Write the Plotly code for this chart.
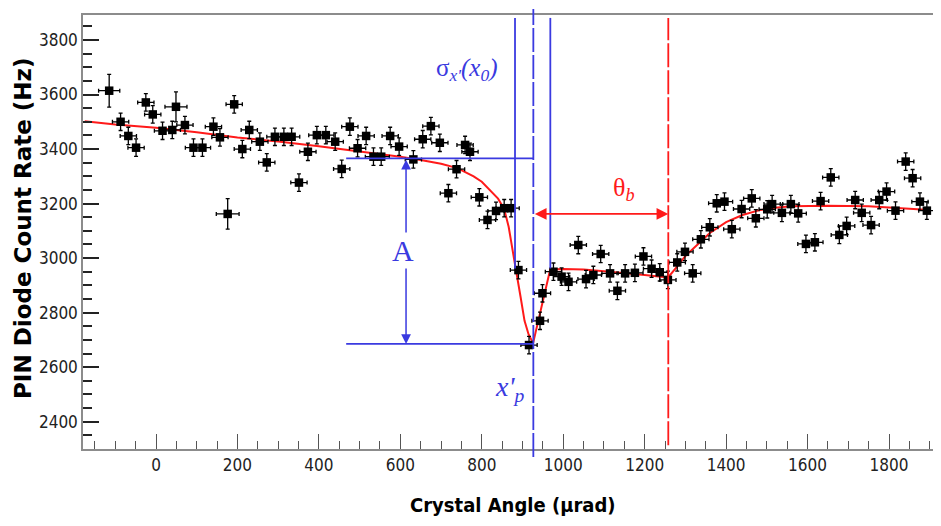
import plotly.graph_objects as go

# ---------------- data ----------------
angle = [-115, -87, -68, -49, -25, -8, 16, 40, 49, 71, 92, 114, 141, 157, 176, 192,
         212, 229, 255, 272, 292, 314, 333, 351, 373, 395, 417, 440, 456, 476, 495,
         516, 534, 553, 575, 597, 632, 655, 675, 697, 718, 738, 759, 771, 794, 814,
         835, 855, 872, 890, 916, 943, 949, 976, 996, 1013, 1037, 1056, 1074, 1092,
         1115, 1133, 1152, 1176, 1197, 1217, 1237, 1257, 1280, 1299, 1318, 1338,
         1360, 1377, 1396, 1414, 1438, 1463, 1473, 1501, 1513, 1537, 1559, 1577,
         1596, 1618, 1632, 1657, 1678, 1696, 1717, 1733, 1756, 1776, 1794, 1816,
         1841, 1858, 1876, 1893]
rate = [3614, 3500, 3448, 3405, 3571, 3527, 3467, 3470, 3555, 3488, 3405, 3405,
        3482, 3443, 3162, 3564, 3400, 3470, 3427, 3351, 3445, 3445, 3445, 3277,
        3390, 3451, 3451, 3427, 3327, 3482, 3403, 3448, 3372, 3372, 3448, 3409,
        3362, 3436, 3484, 3423, 3238, 3326, 3415, 3390, 3223, 3140, 3173, 3183,
        3183, 2956, 2681, 2770, 2871, 2950, 2932, 2913, 3048, 2923, 2938, 3015,
        2944, 2880, 2944, 2946, 3006, 2961, 2948, 2920, 2984, 3023, 2944, 3069,
        3113, 3201, 3207, 3106, 3180, 3219, 3146, 3179, 3198, 3166, 3198, 3164,
        3052, 3058, 3209, 3296, 3085, 3118, 3213, 3166, 3121, 3213, 3244, 3174,
        3354, 3293, 3207, 3174]
angle_err = [26, 20, 20, 20, 20, 20, 20, 20, 27, 20, 20, 20, 20, 20, 28, 20,
             20, 20, 20, 20, 20, 20, 20, 20, 20, 20, 20, 20, 20, 20, 20,
             20, 20, 20, 20, 20, 20, 20, 20, 20, 20, 20, 20, 20, 20, 20,
             20, 20, 20, 20, 20, 20, 20, 20, 20, 20, 20, 20, 20, 20,
             20, 20, 20, 20, 20, 20, 20, 20, 20, 20, 20, 20,
             20, 20, 20, 20, 20, 20, 20, 20, 20, 20, 20, 20,
             20, 20, 20, 20, 20, 20, 20, 20, 20, 20, 20, 20,
             20, 20, 20, 20]
rate_err = [60, 32, 32, 32, 32, 32, 32, 32, 55, 32, 32, 32, 32, 32, 56, 32,
            32, 32, 32, 32, 32, 32, 32, 32, 32, 32, 32, 32, 32, 32, 32,
            32, 32, 32, 32, 32, 32, 32, 32, 32, 32, 32, 32, 32, 32, 32,
            32, 32, 32, 32, 32, 32, 32, 32, 32, 32, 32, 32, 32, 32,
            32, 32, 32, 32, 32, 32, 32, 32, 32, 32, 32, 32,
            32, 32, 32, 32, 32, 32, 32, 32, 32, 32, 32, 32,
            32, 32, 32, 32, 32, 32, 32, 32, 32, 32, 32, 32,
            32, 32, 32, 32]

fit_angle = [-175, -100, 0, 100, 200, 300, 400, 500, 600, 650, 700, 740, 780, 800,
             820, 840, 855, 866, 877, 886, 895, 905, 915, 926, 968, 1000, 1050,
             1100, 1150, 1200, 1240, 1258, 1280, 1300, 1330, 1360, 1400, 1440,
             1480, 1520, 1560, 1600, 1650, 1700, 1750, 1800, 1850, 1900]
fit_rate = [3502, 3490, 3478, 3462, 3442, 3428, 3410, 3392, 3372, 3360, 3346, 3330,
            3300, 3280, 3250, 3218, 3180, 3115, 3017, 2944, 2860, 2770, 2720, 2688,
            2958, 2960, 2958, 2952, 2946, 2938, 2932, 2930, 2970, 3008, 3050, 3092,
            3132, 3158, 3175, 3185, 3190, 3192, 3192, 3191, 3190, 3186, 3180, 3176]

x_ticks = [0, 200, 400, 600, 800, 1000, 1200, 1400, 1600, 1800]
y_ticks = [2400, 2600, 2800, 3000, 3200, 3400, 3600, 3800]

# annotation geometry (data units)
x_peak = 926.6          # x'_p
x_sig_lo, x_sig_hi = 881.6, 968.3
x_theta_end = 1258
y_top_level, y_bottom_level = 3366, 2685
x_level_start = 467
x_arrow_A = 614
y_theta_arrow = 3162
y_solid_bottom = 2962
y_line_top = 3881

BLUE = "#3a3ae0"
RED = "#ff1a1a"
NARROW = "DejaVu Sans Condensed, Liberation Sans Narrow, Arial Narrow, Liberation Sans, sans-serif"

# page geometry (the page body adds an 8px offset)
OFF = 8
W, H = 941 - OFF, 526 - OFF
ML, MR, MT, MB = 83 - OFF, 0, 15 - OFF, 77
pw, ph = W - ML - MR, H - MT - MB


def page_to_paper(px, py):
    return (px - OFF - ML) / pw, (H - MB - (py - OFF)) / ph


fig = go.Figure()

fig.add_trace(go.Scatter(
    x=fit_angle, y=fit_rate, mode="lines",
    line=dict(color=RED, width=2), hoverinfo="skip", showlegend=False))

fig.add_trace(go.Scatter(
    x=angle, y=rate, mode="markers",
    marker=dict(symbol="square", size=8.5, color="black"),
    error_x=dict(type="data", array=angle_err, color="black", thickness=1.3, width=2),
    error_y=dict(type="data", array=rate_err, color="black", thickness=1.3, width=2),
    showlegend=False))

dash_y0 = page_to_paper(0, 457)[1]
dash_y1 = page_to_paper(0, 9)[1]

shapes = [
    dict(type="line", xref="x", yref="y", x0=x_level_start, x1=x_peak,
         y0=y_top_level, y1=y_top_level, line=dict(color=BLUE, width=1.8)),
    dict(type="line", xref="x", yref="y", x0=x_level_start, x1=x_peak,
         y0=y_bottom_level, y1=y_bottom_level, line=dict(color=BLUE, width=1.8)),
    dict(type="line", xref="x", yref="y", x0=x_sig_lo, x1=x_sig_lo,
         y0=y_solid_bottom, y1=y_line_top, line=dict(color=BLUE, width=1.8)),
    dict(type="line", xref="x", yref="y", x0=x_sig_hi, x1=x_sig_hi,
         y0=y_solid_bottom, y1=y_line_top, line=dict(color=BLUE, width=1.8)),
    dict(type="line", xref="x", yref="paper", x0=x_peak, x1=x_peak,
         y0=dash_y0, y1=dash_y1, line=dict(color=BLUE, width=1.8, dash="24px,3px")),
    dict(type="line", xref="x", yref="y", x0=x_theta_end, x1=x_theta_end,
         y0=2313, y1=y_line_top, line=dict(color=RED, width=1.8, dash="24px,3px")),
]

ytx, yty = page_to_paper(23, 229)
xtx, xty = page_to_paper(513, 505)

annotations = [
    dict(x=x_arrow_A, y=y_bottom_level, ax=x_arrow_A, ay=y_top_level,
         xref="x", yref="y", axref="x", ayref="y", text="", showarrow=True,
         arrowhead=2, arrowside="end+start", arrowsize=1.3, arrowwidth=1.5,
         arrowcolor=BLUE, standoff=0, startstandoff=0),
    dict(x=x_theta_end, y=y_theta_arrow, ax=x_peak, ay=y_theta_arrow,
         xref="x", yref="y", axref="x", ayref="y", text="", showarrow=True,
         arrowhead=2, arrowside="end+start", arrowsize=1.3, arrowwidth=1.8,
         arrowcolor=RED, standoff=0, startstandoff=0),
    dict(x=606, y=3027, xref="x", yref="y", text="A", showarrow=False,
         font=dict(family="Liberation Serif", size=30, color=BLUE), bgcolor="white"),
    dict(x=764, y=3690, xref="x", yref="y",
         text="σ<sub><i>x'</i></sub><i>(x<sub>0</sub>)</i>", showarrow=False,
         font=dict(family="Liberation Serif", size=25, color=BLUE)),
    dict(x=869, y=2523, xref="x", yref="y",
         text="<i>x'<sub>p</sub></i>", showarrow=False,
         font=dict(family="Liberation Serif", size=28, color=BLUE)),
    dict(x=1149, y=3252, xref="x", yref="y",
         text="θ<sub><i>b</i></sub>", showarrow=False,
         font=dict(family="Liberation Serif", size=26, color=RED)),
    dict(x=ytx, y=yty, xref="paper", yref="paper", xanchor="center", yanchor="middle",
         text="<b>PIN Diode Count Rate (Hz)</b>", showarrow=False, textangle=-90,
         font=dict(family="DejaVu Sans", size=23, color="black")),
    dict(x=xtx, y=xty, xref="paper", yref="paper", xanchor="center", yanchor="middle",
         text="<b>Crystal Angle (µrad)</b>", showarrow=False,
         font=dict(family=NARROW, size=20, color="black")),
]

fig.update_layout(
    width=W, height=H,
    margin=dict(l=ML, r=MR, t=MT, b=MB, autoexpand=False),
    paper_bgcolor="white", plot_bgcolor="white",
    shapes=shapes, annotations=annotations,
    xaxis=dict(range=[-179.3, 1927.7], tickvals=x_ticks, ticktext=[str(v) for v in x_ticks],
               showgrid=False, zeroline=False, showline=True, linecolor="#8c8c8c",
               linewidth=1.5, mirror=True, ticks="inside", ticklen=15, tickwidth=1,
               tickcolor="#555", automargin=False,
               minor=dict(dtick=50, tick0=0, ticks="inside", ticklen=8, tickcolor="#555",
                          showgrid=False),
               tickfont=dict(family=NARROW, size=17, color="#222")),
    yaxis=dict(range=[2299.7, 3891.7], tickvals=y_ticks, ticktext=[str(v) for v in y_ticks],
               showgrid=False, zeroline=False, showline=True, linecolor="#8c8c8c",
               linewidth=1.5, mirror=False, ticks="inside", ticklen=16, tickwidth=1.5,
               tickcolor="#222", automargin=False,
               minor=dict(dtick=50, tick0=0, ticks="inside", ticklen=9, tickcolor="#222",
                          showgrid=False),
               tickfont=dict(family=NARROW, size=17, color="#222")),
)

fig.write_html("out.html")
